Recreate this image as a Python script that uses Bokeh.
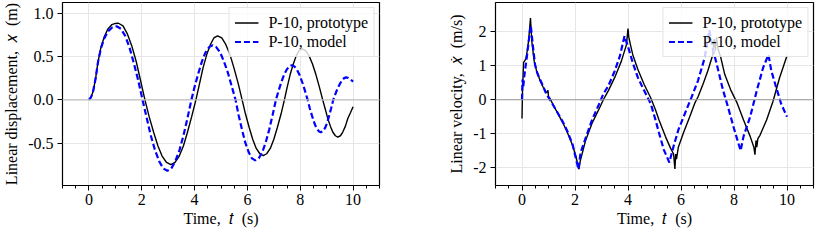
from bokeh.plotting import figure
from bokeh.layouts import row
from bokeh.models import Range1d, SingleIntervalTicker, FixedTicker, Span
from bokeh.embed import file_html
from bokeh.resources import INLINE

# ---------------- data ----------------
t_disp_proto = [0.0, 0.08, 0.16, 0.25, 0.34, 0.45, 0.58, 0.72, 0.87, 1.0, 1.12,
                1.29, 1.45, 1.62, 1.79, 1.95, 2.12,
                2.28, 2.45, 2.61, 2.77, 2.94, 3.10,
                3.26, 3.42, 3.58, 3.73, 3.89, 4.05,
                4.19, 4.32, 4.46, 4.60, 4.73, 4.87,
                5.03, 5.18, 5.34, 5.49, 5.65, 5.80,
                5.93, 6.07, 6.20, 6.33, 6.47, 6.60,
                6.73, 6.87, 7.00, 7.13, 7.27, 7.40,
                7.51, 7.62, 7.74, 7.85, 7.96, 8.07,
                8.20, 8.33, 8.46, 8.59, 8.72, 8.85,
                8.95, 9.04, 9.14, 9.23, 9.33, 9.42,
                9.52, 9.61, 9.71, 9.80, 9.90, 10.0]
disp_proto = [0.0, 0.03, 0.10, 0.24, 0.43, 0.60, 0.73, 0.82, 0.87, 0.883, 0.885,
              0.855, 0.766, 0.626, 0.443, 0.229, 0.0,
              -0.194, -0.375, -0.53, -0.65, -0.724, -0.75,
              -0.724, -0.65, -0.53, -0.375, -0.194, 0.0,
              0.19, 0.37, 0.523, 0.64, 0.715, 0.74,
              0.715, 0.64, 0.523, 0.37, 0.19, 0.0,
              -0.167, -0.323, -0.456, -0.559, -0.623, -0.645,
              -0.623, -0.559, -0.456, -0.323, -0.167, 0.0,
              0.153, 0.295, 0.417, 0.511, 0.57, 0.59,
              0.57, 0.511, 0.417, 0.295, 0.153, 0.0,
              -0.111, -0.215, -0.304, -0.372, -0.415, -0.43,
              -0.415, -0.372, -0.304, -0.215, -0.15, -0.08]

t_disp_model = [0.0, 0.08, 0.16, 0.25, 0.34, 0.45, 0.58, 0.72, 0.87, 1.05,
                1.21, 1.38, 1.54, 1.70, 1.87, 2.03,
                2.19, 2.34, 2.50, 2.66, 2.81, 2.97,
                3.12, 3.27, 3.43, 3.58, 3.73, 3.88,
                4.01, 4.15, 4.28, 4.41, 4.55, 4.68,
                4.82, 4.97, 5.11, 5.26, 5.40, 5.55,
                5.67, 5.80, 5.92, 6.05, 6.17, 6.30,
                6.43, 6.56, 6.69, 6.82, 6.95, 7.08,
                7.18, 7.28, 7.38, 7.48, 7.58, 7.68,
                7.78, 7.88, 7.98, 8.08, 8.18, 8.28,
                8.36, 8.45, 8.53, 8.61, 8.70, 8.78,
                8.86, 8.94, 9.02, 9.09, 9.17, 9.25,
                9.33, 9.41, 9.50, 9.58, 9.66, 9.74,
                9.82, 9.91, 10.0]
disp_model = [0.0, 0.03, 0.10, 0.24, 0.43, 0.59, 0.71, 0.79, 0.835, 0.85,
              0.821, 0.736, 0.601, 0.425, 0.22, 0.0,
              -0.212, -0.41, -0.58, -0.71, -0.792, -0.82,
              -0.792, -0.71, -0.58, -0.41, -0.212, 0.0,
              0.163, 0.315, 0.445, 0.546, 0.609, 0.63,
              0.609, 0.546, 0.445, 0.315, 0.163, 0.0,
              -0.181, -0.35, -0.495, -0.606, -0.676, -0.70,
              -0.676, -0.606, -0.495, -0.35, -0.181, 0.0,
              0.104, 0.2, 0.283, 0.346, 0.386, 0.40,
              0.386, 0.346, 0.283, 0.2, 0.104, 0.0,
              -0.097, -0.188, -0.265, -0.325, -0.362, -0.375,
              -0.362, -0.325, -0.265, -0.188, -0.097, 0.0,
              0.067, 0.13, 0.184, 0.225, 0.251, 0.26,
              0.252, 0.235, 0.21]

t_vel_proto = [0.0, 0.02, 0.06, 0.10, 0.14, 0.18, 0.25, 0.32, 0.37, 0.42, 0.46,
               0.55, 0.62, 0.68, 0.80, 0.92, 0.98, 1.0, 1.05, 1.17, 1.35,
               1.54, 1.72, 1.91, 2.03, 2.15, 2.20, 2.30, 2.40, 2.64, 2.89,
               3.07, 3.26, 3.50, 3.75, 3.94, 4.0, 4.03, 4.10, 4.18, 4.37,
               4.61, 4.86, 5.04, 5.17, 5.41, 5.60, 5.72, 5.77, 5.80, 5.83,
               5.90, 6.09, 6.33, 6.52, 6.64, 6.83, 7.01, 7.20, 7.25, 7.30,
               7.34, 7.40, 7.50, 7.65, 7.87, 8.12, 8.36, 8.61, 8.75, 8.79,
               8.83, 8.86, 8.90, 8.98, 9.23, 9.47, 9.72, 10.0]
vel_proto = [-0.55, 0.3, 1.1, 1.15, 1.2, 1.35, 1.75, 2.41, 1.72, 1.4, 1.14,
             0.85, 0.72, 0.56, 0.37, 0.2, 0.28, 0.1, 0.05, -0.14, -0.4,
             -0.68, -0.98, -1.35, -1.66, -2.05, -1.8, -1.5, -1.2, -0.7, -0.3,
             0.0, 0.27, 0.66, 1.14, 1.62, 2.1, 1.85, 1.6, 1.33, 0.9,
             0.45, 0.05, -0.3, -0.6, -1.08, -1.42, -1.6, -2.04, -1.6, -1.75,
             -1.4, -0.98, -0.5, -0.1, 0.08, 0.46, 0.85, 1.33, 1.8, 1.45,
             1.85, 1.5, 1.25, 0.75, 0.3, -0.1, -0.6, -1.08, -1.4, -1.62,
             -1.2, -1.4, -1.15, -1.05, -0.6, -0.05, 0.65, 1.3]

t_vel_model = [0.0, 0.02, 0.05, 0.08, 0.12, 0.18, 0.28, 0.33, 0.41, 0.49, 0.55,
               0.62, 0.68, 0.74, 0.92, 1.11, 1.29, 1.54, 1.72, 1.91, 2.13,
               2.21, 2.40, 2.64, 2.89, 3.07, 3.26, 3.50, 3.69, 3.87, 4.0,
               4.18, 4.37, 4.61, 4.86, 5.04, 5.17, 5.35, 5.56, 5.72, 5.90,
               6.15, 6.40, 6.64, 6.89, 7.07, 7.20, 7.35, 7.58, 7.75, 8.0,
               8.25, 8.36, 8.61, 8.86, 9.10, 9.30, 9.41, 9.59, 9.78, 10.0]
vel_model = [0.0, 0.6, 0.4, 0.65, 0.9, 1.25, 1.9, 2.2, 1.6, 1.05, 0.85,
             0.7, 0.6, 0.5, 0.17, -0.07, -0.31, -0.65, -0.94, -1.32, -2.05,
             -1.56, -1.13, -0.6, -0.16, 0.17, 0.41, 0.85, 1.28, 1.88, 1.57,
             1.09, 0.66, 0.27, -0.12, -0.6, -0.98, -1.47, -1.85, -1.37, -0.89,
             -0.4, 0.08, 0.56, 1.23, 2.05, 1.5, 1.05, 0.3, -0.15, -0.85,
             -1.5, -1.08, -0.5, 0.27, 0.95, 1.33, 0.85, 0.37, -0.12, -0.5]

x_range = (-1.0, 11.0)
disp_range = (-0.99, 1.125)
vel_range = (-2.53, 2.87)
disp_ticks = [-0.5, 0.0, 0.5, 1.0]
disp_tick_labels = ["-0.5", "0.0", "0.5", "1.0"]
vel_ticks = [-2, -1, 0, 1, 2]
vel_tick_labels = ["-2", "-1", "0", "1", "2"]

label_proto = "P-10, prototype"
label_model = "P-10, model"
x_label = "Time,\u2002\U0001D461\u2002(s)"
disp_label = "Linear displacement,\u2002\U0001D465\u2002(m)"
vel_label = "Linear velocity,\u2002\U0001D465\u0307\u2002(m/s)"

FONT = "Liberation Serif"


def make_fig(ylabel, yr, yticks, ylabels, zero_color, width, border_left,
             border_top, border_right):
    p = figure(width=width, height=230, output_backend="svg",
               toolbar_location=None, x_range=Range1d(*x_range),
               y_range=Range1d(*yr),
               min_border_left=border_left, min_border_right=border_right,
               min_border_top=border_top, min_border_bottom=45)
    p.outline_line_color = "black"
    p.outline_line_width = 1.2
    p.background_fill_color = "white"
    p.border_fill_color = "white"

    p.xaxis.ticker = SingleIntervalTicker(interval=2, num_minor_ticks=4)
    p.yaxis.ticker = FixedTicker(ticks=yticks)
    p.yaxis.major_label_overrides = {k: v for k, v in zip(yticks, ylabels)}

    for ax in (p.xaxis[0], p.yaxis[0]):
        ax.axis_line_color = None
        ax.major_tick_line_color = "black"
        ax.minor_tick_line_color = "black"
        ax.major_tick_in = 0
        ax.major_tick_out = 5
        ax.minor_tick_in = 0
        ax.minor_tick_out = 3
        ax.major_label_text_font = FONT
        ax.major_label_text_font_size = "16px"
        ax.major_label_text_color = "black"
        ax.axis_label_text_font = FONT
        ax.axis_label_text_font_size = "16px"
        ax.axis_label_text_font_style = "normal"
        ax.axis_label_text_color = "black"
    p.xaxis.major_label_standoff = 3
    p.xaxis.axis_label_standoff = 2
    p.yaxis.major_label_standoff = 4
    p.yaxis.axis_label_standoff = 5
    p.yaxis.minor_tick_line_color = None

    p.xaxis.axis_label = x_label
    p.yaxis.axis_label = ylabel

    p.xgrid.grid_line_color = "#e6e6e6"
    p.ygrid.grid_line_color = "#e6e6e6"

    p.add_layout(Span(location=0, dimension="width", line_color=zero_color,
                      line_width=1.2))
    return p


p1 = make_fig(disp_label, disp_range, disp_ticks, disp_tick_labels, "#c0c0c0",
              439, 58, 1, 60)
p1.line(t_disp_proto, disp_proto, line_color="black", line_width=1.4,
        legend_label=label_proto)
p1.line(t_disp_model, disp_model, line_color="#0000ff", line_width=2.2,
        line_dash="6 3", legend_label=label_model)

p2 = make_fig(vel_label, vel_range, vel_ticks, vel_tick_labels, "#999999",
              376, 56, 2, 2)
p2.line(t_vel_proto, vel_proto, line_color="black", line_width=1.4,
        legend_label=label_proto)
p2.line(t_vel_model, vel_model, line_color="#0000ff", line_width=2.2,
        line_dash="6 3", legend_label=label_model)

for p in (p1, p2):
    lg = p.legend[0]
    lg.location = "top_right"
    lg.margin = 5
    lg.padding = 5
    lg.spacing = 0
    lg.label_height = 19
    lg.glyph_height = 19
    lg.glyph_width = 24
    lg.label_standoff = 10
    lg.label_text_font = FONT
    lg.label_text_font_size = "16px"
    lg.label_text_color = "black"
    lg.border_line_color = "#cccccc"
    lg.border_line_width = 1
    lg.background_fill_color = "white"
    lg.background_fill_alpha = 0.8

layout = row(p1, p2)
open("out.html", "w").write(file_html(layout, INLINE))
